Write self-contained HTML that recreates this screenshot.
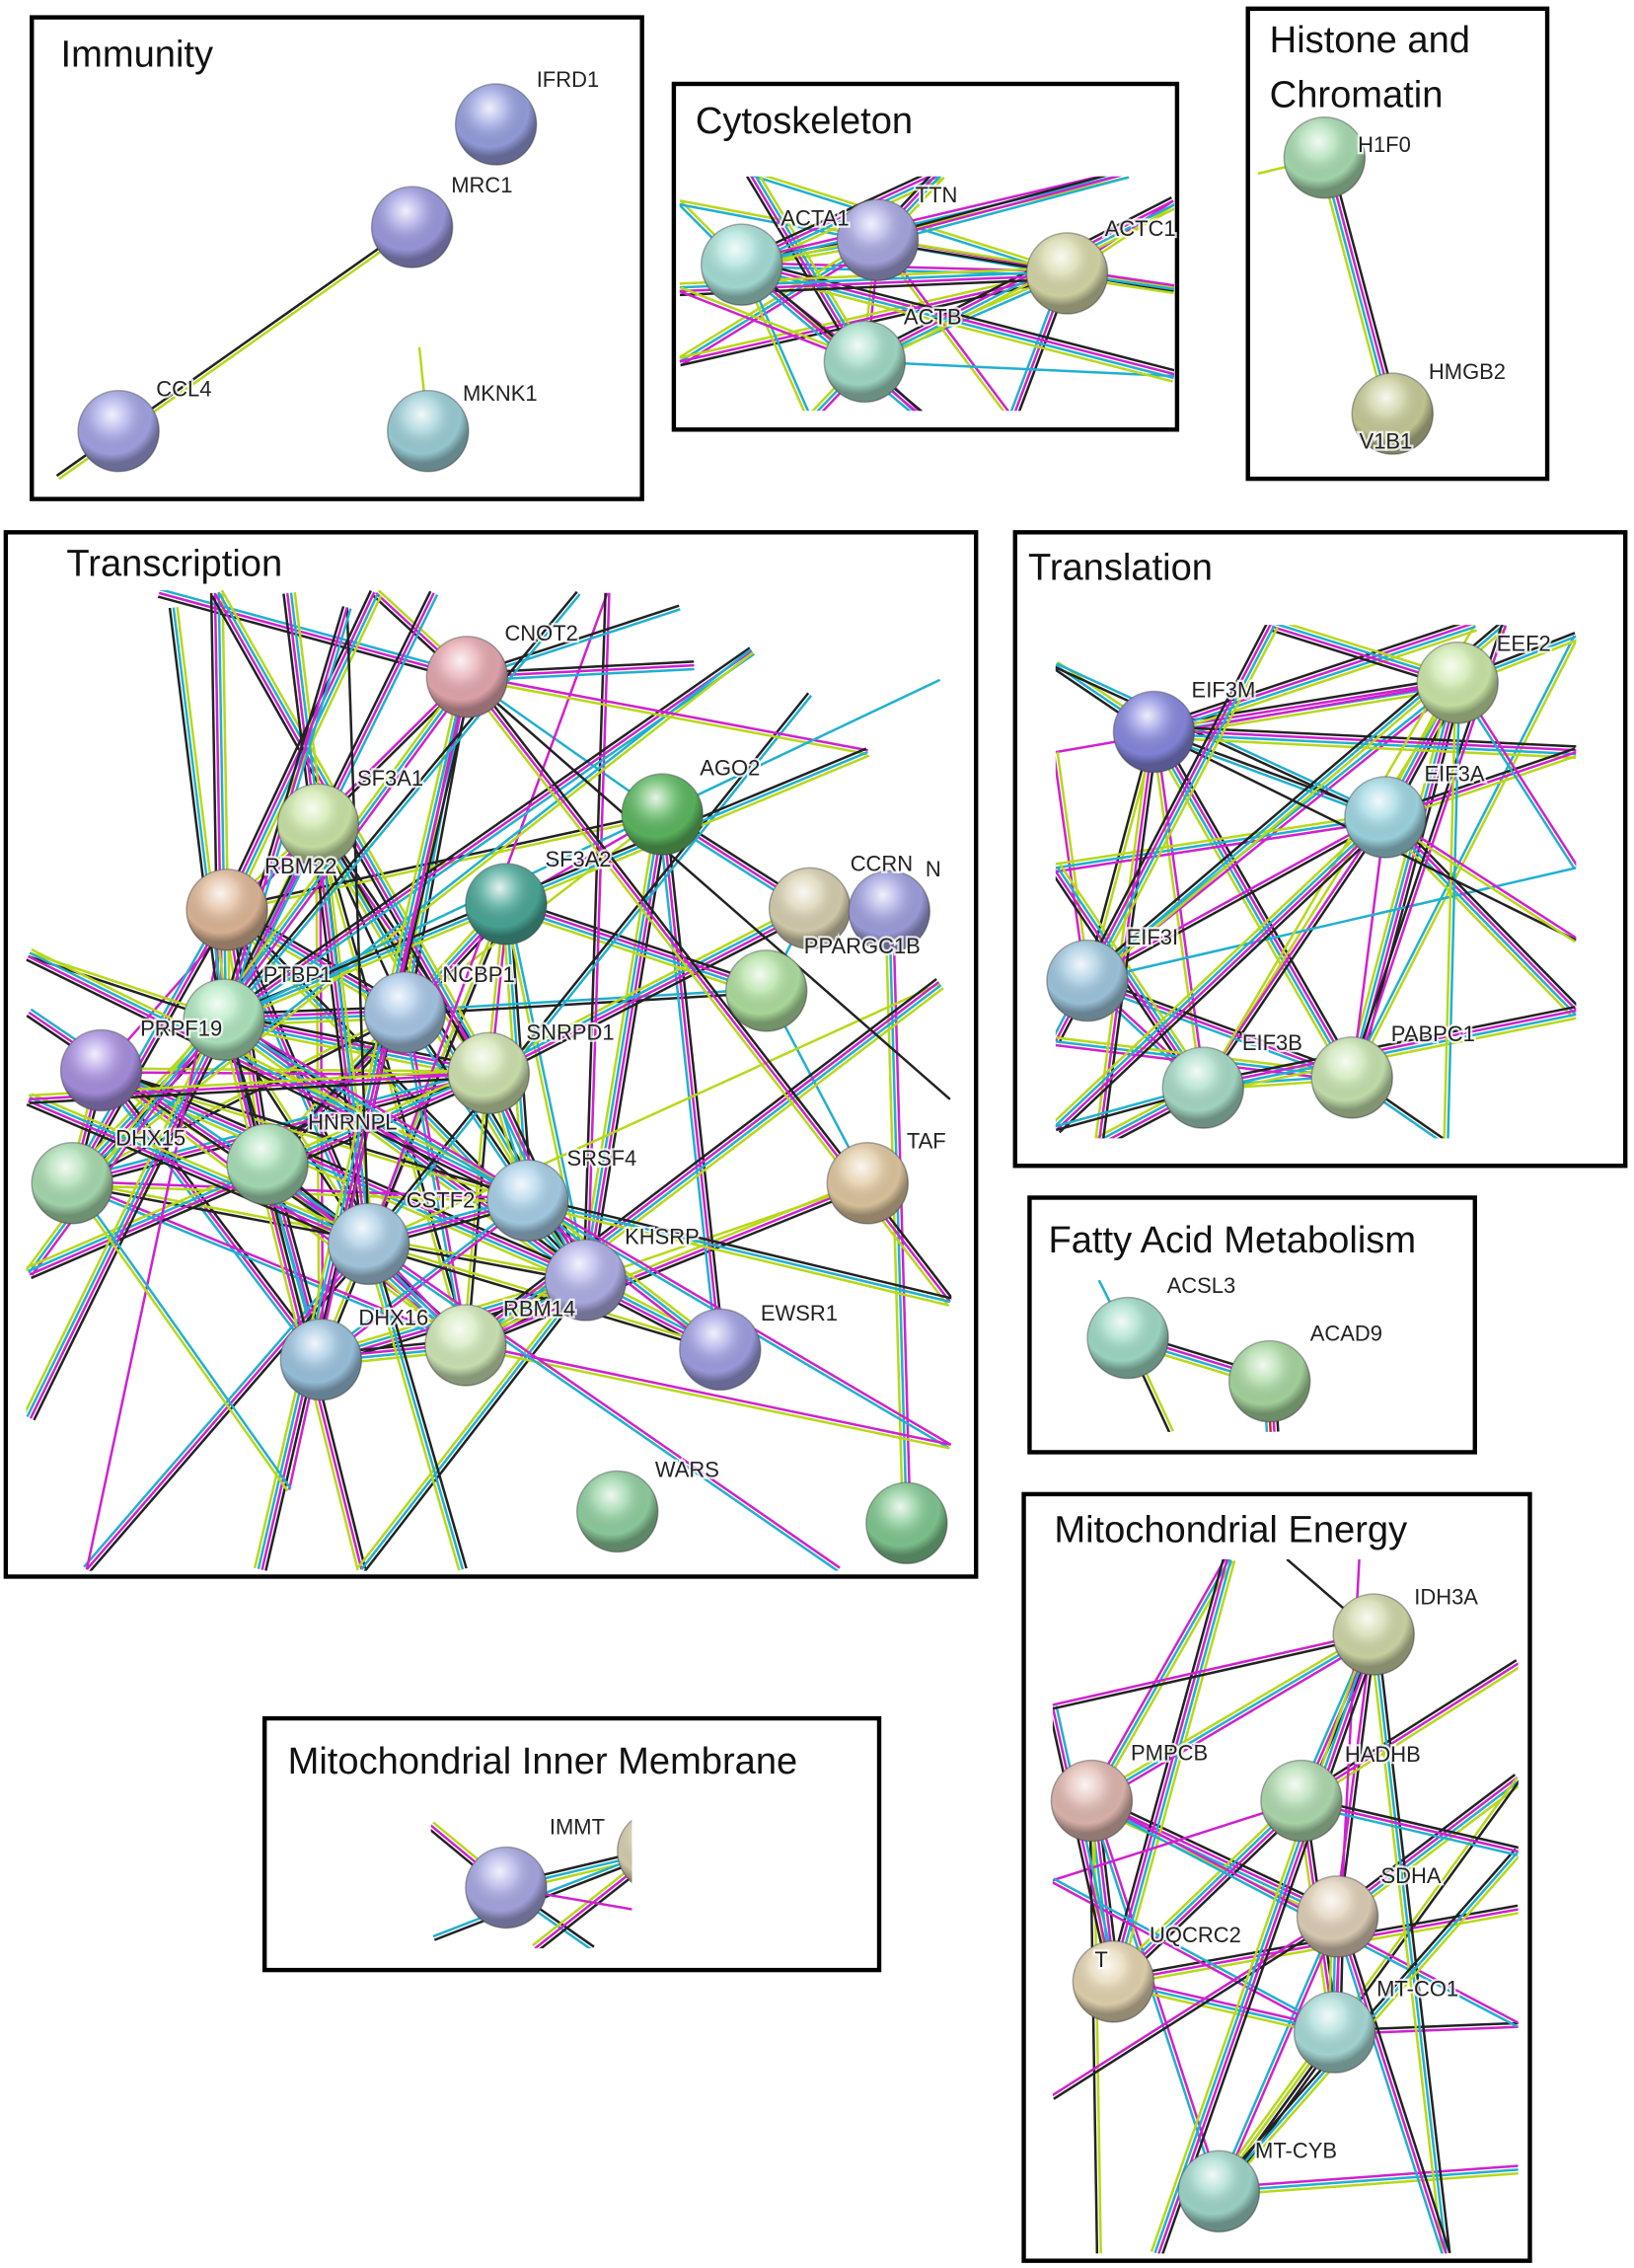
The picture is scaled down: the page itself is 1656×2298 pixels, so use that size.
<!DOCTYPE html>
<html><head><meta charset="utf-8">
<style>
html,body{margin:0;padding:0;background:#fff;}
svg{display:block;}
.t{font-family:"Liberation Sans",sans-serif;font-size:26px;fill:#111;}
.l{font-family:"Liberation Sans",sans-serif;font-size:15px;fill:#222;paint-order:stroke;stroke:#fff;stroke-width:3px;stroke-opacity:0.8;}
</style></head><body>
<svg id="s" width="1656" height="2298" viewBox="0 0 1130 1568" preserveAspectRatio="none" xmlns="http://www.w3.org/2000/svg">
<defs>
<radialGradient id="hl" cx="0.42" cy="0.3" r="0.6">
<stop offset="0" stop-color="#fff" stop-opacity="0.85"/>
<stop offset="0.35" stop-color="#fff" stop-opacity="0.25"/>
<stop offset="0.8" stop-color="#000" stop-opacity="0.05"/>
<stop offset="1" stop-color="#000" stop-opacity="0.35"/>
</radialGradient>
<clipPath id="cImm"><rect x="26" y="60" width="414" height="282"/></clipPath>
<clipPath id="cCyt"><rect x="470" y="122" width="342" height="162"/></clipPath>
<clipPath id="cHis"><rect x="868" y="90" width="130" height="236"/></clipPath>
<clipPath id="cTr"><rect x="18" y="408" width="640" height="678"/></clipPath>
<clipPath id="cTl"><rect x="730" y="432" width="360" height="355"/></clipPath>
<clipPath id="cFa"><rect x="752" y="885" width="250" height="105"/></clipPath>
<clipPath id="cMe"><rect x="728" y="1078" width="322" height="480"/></clipPath>
<clipPath id="cIn"><rect x="298" y="1255" width="139" height="92"/></clipPath>
</defs>
<g fill="none" stroke="#000" stroke-width="3">
<rect x="22" y="12" width="422" height="333"/>
<rect x="466" y="58" width="348" height="239"/>
<rect x="863" y="6" width="207" height="325"/>
<rect x="4" y="368" width="671" height="722"/>
<rect x="702" y="368" width="422" height="438"/>
<rect x="712" y="828" width="308" height="176"/>
<rect x="708" y="1033" width="350" height="530"/>
<rect x="183" y="1188" width="425" height="174"/>
</g>
<g id="edges"></g>
<g id="nodes"></g>
<text class="t" x="42" y="46">Immunity</text>
<text class="t" x="481" y="92">Cytoskeleton</text>
<text class="t" x="878" y="36">Histone and</text>
<text class="t" x="878" y="74">Chromatin</text>
<text class="t" x="46" y="398">Transcription</text>
<text class="t" x="711" y="401">Translation</text>
<text class="t" x="725" y="866">Fatty Acid Metabolism</text>
<text class="t" x="729" y="1066">Mitochondrial Energy</text>
<text class="t" x="199" y="1226">Mitochondrial Inner Membrane</text>
<g id="labels">
<text class="l" x="371" y="60">IFRD1</text>
<text class="l" x="312" y="133">MRC1</text>
<text class="l" x="108" y="274">CCL4</text>
<text class="l" x="320" y="277">MKNK1</text>
<text class="l" x="540" y="156">ACTA1</text>
<text class="l" x="633" y="140">TTN</text>
<text class="l" x="764" y="163">ACTC1</text>
<text class="l" x="625" y="224">ACTB</text>
<text class="l" x="939" y="105">H1F0</text>
<text class="l" x="988" y="262">HMGB2</text>
<text class="l" x="940" y="310">V1B1</text>
<text class="l" x="349" y="443">CNOT2</text>
<text class="l" x="247" y="543">SF3A1</text>
<text class="l" x="484" y="536">AGO2</text>
<text class="l" x="183" y="604">RBM22</text>
<text class="l" x="377" y="599">SF3A2</text>
<text class="l" x="588" y="602">CCRN</text>
<text class="l" x="640" y="606">N</text>
<text class="l" x="556" y="659">PPARGC1B</text>
<text class="l" x="182" y="679">PTBP1</text>
<text class="l" x="306" y="679">NCBP1</text>
<text class="l" x="364" y="719">SNRPD1</text>
<text class="l" x="97" y="716">PRPF19</text>
<text class="l" x="80" y="792">DHX15</text>
<text class="l" x="213" y="781">HNRNPL</text>
<text class="l" x="392" y="806">SRSF4</text>
<text class="l" x="281" y="835">CSTF2</text>
<text class="l" x="432" y="860">KHSRP</text>
<text class="l" x="627" y="794">TAF</text>
<text class="l" x="248" y="916">DHX16</text>
<text class="l" x="348" y="910">RBM14</text>
<text class="l" x="526" y="913">EWSR1</text>
<text class="l" x="453" y="1021">WARS</text>
<text class="l" x="824" y="482">EIF3M</text>
<text class="l" x="1035" y="450">EEF2</text>
<text class="l" x="985" y="540">EIF3A</text>
<text class="l" x="779" y="653">EIF3I</text>
<text class="l" x="859" y="726">EIF3B</text>
<text class="l" x="962" y="720">PABPC1</text>
<text class="l" x="807" y="894">ACSL3</text>
<text class="l" x="906" y="927">ACAD9</text>
<text class="l" x="978" y="1109">IDH3A</text>
<text class="l" x="782" y="1217">PMPCB</text>
<text class="l" x="930" y="1218">HADHB</text>
<text class="l" x="955" y="1302">SDHA</text>
<text class="l" x="795" y="1343">UQCRC2</text>
<text class="l" x="757" y="1360">T</text>
<text class="l" x="952" y="1380">MT-CO1</text>
<text class="l" x="868" y="1492">MT-CYB</text>
<text class="l" x="380" y="1268">IMMT</text>
</g>
</svg>
<script>
const NS="http://www.w3.org/2000/svg";
const N={
IFRD1:[343,86,"#97a0e0"],MRC1:[285,157,"#9d9ae0"],CCL4:[82,298,"#a3a4e6"],MKNK1:[296,298,"#9ccfd8"],
ACTA1:[513,183,"#a7e0d8"],TTN:[607,166,"#a8a8e2"],ACTC1:[738,189,"#d6d8a8"],ACTB:[598,250,"#a3dcc8"],
H1F0:[916,109,"#a8dcb0"],HMGB2:[963,286,"#c8cc98"],
CNOT2:[323,468,"#e6a8b0"],SF3A1:[220,570,"#cce6a8"],AGO2:[458,563,"#5cb860"],RBM22:[157,629,"#e0b898"],SF3A2:[350,625,"#4aa898"],
CCRN:[560,628,"#d8d0b0"],CCRN2:[615,630,"#a0a0e0"],PPARGC1B:[530,685,"#b0e0a0"],PTBP1:[155,705,"#b0e8c0"],NCBP1:[280,700,"#a8c8e8"],
SNRPD1:[338,742,"#d0e4b0"],PRPF19:[70,740,"#a890e0"],DHX15:[50,818,"#a8dcb0"],HNRNPL:[185,805,"#a8e0b8"],SRSF4:[365,830,"#a8d0e8"],
CSTF2:[255,860,"#a8cce4"],KHSRP:[405,885,"#b0b0e8"],TAF:[600,818,"#e0c8a0"],DHX16:[222,940,"#9cc4e0"],RBM14:[322,930,"#d0e8b8"],
EWSR1:[498,933,"#a0a0e4"],WARS:[427,1045,"#90d0a0"],X1:[627,1053,"#80c890"],
EIF3M:[798,506,"#8888e0"],EEF2:[1008,472,"#cce8a8"],EIF3A:[958,565,"#a0d8e4"],EIF3I:[752,678,"#a0c8e0"],EIF3B:[832,752,"#a8dcc8"],PABPC1:[935,745,"#c8e4b0"],
ACSL3:[780,925,"#a0dcc8"],ACAD9:[878,955,"#a8d8a0"],
IDH3A:[950,1130,"#d0d8a8"],PMPCB:[755,1245,"#e0b8b0"],HADHB:[900,1245,"#b0dcb0"],SDHA:[925,1325,"#e0d0b8"],UQCRC2:[770,1370,"#e4d4b0"],MTCO1:[923,1405,"#a8dcd8"],MTCYB:[843,1515,"#a0d8cc"],
IMMT:[350,1305,"#a8a8e4"],IM2:[455,1280,"#d8d0b0"]
};
const C=["#222","#d020d0","#20b0d0","#b8d818"];
let seed=7;function rnd(){seed=(seed*16807)%2147483647;return seed/2147483647;}
const eg=document.getElementById("edges");
function P(a){return typeof a==="string"?N[a]:a;}
function edge(a,b,clip,k){const p=P(a),q=P(b);const dx=q[0]-p[0],dy=q[1]-p[1],L=Math.hypot(dx,dy)||1;const nx=-dy/L,ny=dx/L;
 let cols=k||[];if(!k){for(const c of C)if(rnd()<0.65)cols.push(c);if(!cols.length)cols=["#b8d818","#222"];}
 const g=document.createElementNS(NS,"g");g.setAttribute("clip-path","url(#"+clip+")");
 cols.forEach((c,i)=>{const o=(i-(cols.length-1)/2)*2.6;const l=document.createElementNS(NS,"line");
 l.setAttribute("x1",p[0]+nx*o);l.setAttribute("y1",p[1]+ny*o);l.setAttribute("x2",q[0]+nx*o);l.setAttribute("y2",q[1]+ny*o);
 l.setAttribute("stroke",c);l.setAttribute("stroke-width","1.7");g.appendChild(l);});eg.appendChild(g);}
edge([40,330],"MRC1","cImm",["#222","#b8d818"]);edge("MKNK1",[290,240],"cImm",["#b8d818"]);
const cy=["ACTA1","TTN","ACTC1","ACTB"];
for(let i=0;i<4;i++)for(let j=i+1;j<4;j++)edge(cy[i],cy[j],"cCyt");
[[470,140],[470,250],[520,120],[560,290],[650,120],[700,290],[812,140],[812,260],[780,120],[812,200],[470,200],[640,290]].forEach((p,i)=>{edge(cy[i%4],p,"cCyt");edge(cy[(i+1)%4],p,"cCyt");});
edge("H1F0","HMGB2","cHis",["#222","#d020d0","#20b0d0","#b8d818"]);edge("H1F0",[870,120],"cHis",["#b8d818"]);
const tr=["CNOT2","SF3A1","AGO2","RBM22","SF3A2","CCRN","PPARGC1B","PTBP1","NCBP1","SNRPD1","PRPF19","DHX15","HNRNPL","SRSF4","CSTF2","KHSRP","TAF","DHX16","RBM14","EWSR1","X1"];
const dense=["SF3A1","RBM22","SF3A2","PTBP1","NCBP1","SNRPD1","PRPF19","DHX15","HNRNPL","SRSF4","CSTF2","KHSRP","DHX16","RBM14"];
for(let i=0;i<dense.length;i++)for(let j=i+1;j<dense.length;j++)if(rnd()<0.7)edge(dense[i],dense[j],"cTr");
[["CNOT2","AGO2"],["CNOT2","SF3A1"],["CNOT2","NCBP1"],["AGO2","CCRN"],["AGO2","SF3A2"],["AGO2","KHSRP"],["AGO2","NCBP1"],["AGO2","RBM22"],["CCRN","PPARGC1B"],["PPARGC1B","NCBP1"],["PPARGC1B","TAF"],["CCRN2","X1"],["TAF","RBM14"],["TAF","KHSRP"],["EWSR1","KHSRP"],["EWSR1","SRSF4"],["EWSR1","CSTF2"],["AGO2","EWSR1"],["CCRN","SNRPD1"],["SF3A2","PPARGC1B"]].forEach(e=>edge(e[0],e[1],"cTr"));
const bd=[[110,410],[150,410],[200,410],[260,410],[300,410],[420,410],[470,420],[520,450],[560,480],[600,520],[650,470],[650,680],[657,760],[20,660],[20,700],[20,880],[20,980],[60,1085],[180,1085],[250,1085],[320,1085],[200,1030],[120,420],[240,420],[480,460],[657,1000],[580,1085],[657,900],[400,410],[20,760]];
bd.forEach((p,i)=>{edge(tr[(i*7)%tr.length],p,"cTr");if(i%2)edge(dense[(i*5)%dense.length],p,"cTr");});
const tl=["EIF3M","EEF2","EIF3A","EIF3I","EIF3B","PABPC1"];
for(let i=0;i<6;i++)for(let j=i+1;j<6;j++)edge(tl[i],tl[j],"cTl");
[[730,460],[730,520],[730,600],[730,720],[760,790],[1090,440],[1090,520],[1090,600],[1090,700],[1040,432],[1020,432],[1000,790],[1090,650],[880,432],[730,780]].forEach((p,i)=>{edge(tl[i%6],p,"cTl");edge(tl[(i+2)%6],p,"cTl");});
edge("ACSL3","ACAD9","cFa",["#222","#d020d0","#20b0d0","#b8d818"]);edge("ACSL3",[810,990],"cFa");edge("ACAD9",[880,990],"cFa",["#222","#d020d0","#e02020","#20b0d0"]);edge("ACSL3",[760,885],"cFa",["#20b0d0"]);
const me=["IDH3A","PMPCB","HADHB","SDHA","UQCRC2","MTCO1","MTCYB"];
for(let i=0;i<7;i++)for(let j=i+1;j<7;j++)if(rnd()<0.7)edge(me[i],me[j],"cMe");
[[890,1078],[850,1078],[1050,1150],[1050,1230],[1050,1320],[1050,1400],[1050,1500],[1000,1558],[760,1558],[728,1300],[728,1450],[728,1180],[940,1078],[1050,1280],[800,1558]].forEach((p,i)=>{edge(me[i%7],p,"cMe");if(i%2)edge(me[(i+3)%7],p,"cMe");});
edge("IMMT","IM2","cIn");edge("IMMT",[298,1262],"cIn");edge("IMMT",[410,1347],"cIn");edge("IM2",[370,1347],"cIn");edge("IM2",[300,1340],"cIn");edge("IMMT",[437,1320],"cIn");
const ng=document.getElementById("nodes");
for(const k in N){const [x,y,c]=N[k];let clip=null;
 if(k==="X1"||k==="CCRN2")clip="cTr";if(k==="IM2")clip="cIn";
 const g=document.createElementNS(NS,"g");if(clip)g.setAttribute("clip-path","url(#"+clip+")");
 const a=document.createElementNS(NS,"circle");a.setAttribute("cx",x);a.setAttribute("cy",y);a.setAttribute("r",28);a.setAttribute("fill",c);a.setAttribute("stroke","#555");a.setAttribute("stroke-opacity","0.5");
 const b=document.createElementNS(NS,"circle");b.setAttribute("cx",x);b.setAttribute("cy",y);b.setAttribute("r",28);b.setAttribute("fill","url(#hl)");
 g.appendChild(a);g.appendChild(b);ng.appendChild(g);}
</script>
</body></html>
